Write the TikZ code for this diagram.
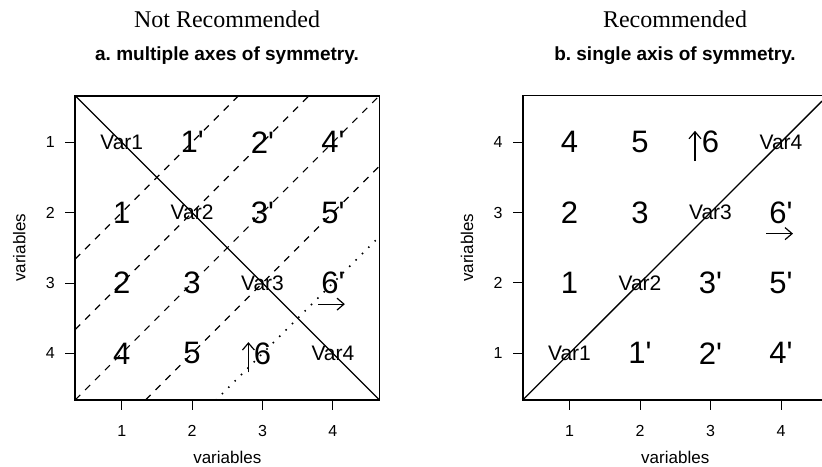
\documentclass[tikz,border=0pt]{standalone}
\usepackage{fontspec}
\setmainfont{Liberation Serif}
\newfontfamily\hv{Liberation Sans}
\usetikzlibrary{arrows.meta}
\frenchspacing
\tikzset{
  frame/.style={line width=1.6pt},
  diag/.style={line width=1.3pt},
  dashln/.style={line width=1.2pt, dash pattern=on 7pt off 7pt},
  dotln/.style={line width=2.2pt, line cap=round, dash pattern=on 0pt off 9pt},
  tickln/.style={line width=0.9pt},
  ticklab/.style={font=\hv\fontsize{16}{16}\selectfont, inner sep=0pt},
  axlab/.style={font=\hv\fontsize{17}{17}\selectfont, inner sep=0pt},
  varlab/.style={font=\hv\fontsize{21}{21}\selectfont, inner sep=0pt},
  numlab/.style={font=\hv\fontsize{31}{31}\selectfont, inner sep=0pt},
  ttl/.style={font=\fontsize{24}{24}\selectfont, inner sep=0pt},
  subttl/.style={font=\hv\bfseries\fontsize{19}{19}\selectfont, inner sep=0pt},
  arr/.style={line width=1.2pt, -{Straight Barb[length=7pt,width=12pt,line width=1.2pt]}}
}
\begin{document}
\begin{tikzpicture}[x=1pt,y=-1pt]
\clip (0,0) rectangle (822,466);
\fill[white] (0,0) rectangle (822,466);
% titles
\node[ttl] (t1) at (227,19) {Not Recommended};
\node[subttl] (s1) at (227,56) {a. multiple axes of symmetry.};
\node[ttl] (t2) at (675,19) {Recommended};
\node[subttl] (s2) at (675,56) {b. single axis of symmetry.};
% ===== left panel =====
\begin{scope}[shift={(51.3pt,-71.8pt)}, x=70.4pt, y=-70.4pt]
  % dashed and dotted anti-diagonals (x+y=c)
  \draw[dashln] (0.34,2.66) -- (2.66,0.34);
  \draw[dashln] (0.34,3.66) -- (3.66,0.34);
  \draw[dashln] (0.34,4.66) -- (4.66,0.34);
  \draw[dashln] (1.34,4.66) -- (4.66,1.34);
  \draw[dotln] (2.34,4.66) -- (4.66,2.34);
  % main diagonal
  \draw[diag] (0.34,0.34) -- (4.66,4.66);
  % frame
  \draw[frame] (0.34,0.34) rectangle (4.66,4.66);
  % ticks
  \foreach \i in {1,2,3,4}{
    \draw[tickln] (\i,4.66) -- ++(0,-10pt);
    \node[ticklab] (lx\i) at ([yshift=-31pt]\i,4.66) {\i};
    \draw[tickln] (0.34,\i) -- ++(-10pt,0);
    \node[ticklab] (ly\i) at ([xshift=-25pt]0.34,\i) {\i};
  }
  \node[axlab] (lxl) at ([yshift=-58pt]2.5,4.66) {variables};
  \node[axlab, rotate=90] (lyl) at ([xshift=-56pt]0.34,2.5) {variables};
  % labels
  \node[varlab] (LV1) at (1,1) {Var1};
  \node[varlab] (LV2) at (2,2) {Var2};
  \node[varlab] (LV3) at (3,3) {Var3};
  \node[varlab] (LV4) at (4,4) {Var4};
  \node[numlab] (La1p) at (2,1) {1'};
  \node[numlab] (La2p) at (3,1) {2'};
  \node[numlab] (La4p) at (4,1) {4'};
  \node[numlab] (La1) at (1,2) {1};
  \node[numlab] (La3p) at (3,2) {3'};
  \node[numlab] (La5p) at (4,2) {5'};
  \node[numlab] (La2) at (1,3) {2};
  \node[numlab] (La3) at (2,3) {3};
  \node[numlab] (La6p) at (4,3) {6'};
  \node[numlab] (La4) at (1,4) {4};
  \node[numlab] (La5) at (2,4) {5};
  \node[numlab] (La6) at (3,4) {6};
  % arrows
  \coordinate (lra) at (3.79,3.3);
  \coordinate (lrb) at (4.17,3.3);
  \draw[arr] (lra) -- (lrb);
  \coordinate (lua) at (2.8,4.27);
  \coordinate (lub) at (2.8,3.84);
  \draw[arr] (lua) -- (lub);
\end{scope}
% ===== right panel =====
\begin{scope}[shift={(499pt,-423.7pt)}, x=70.5pt, y=70.4pt]
  \draw[diag] (0.34,0.34) -- (4.66,4.66);
  \draw[frame] (0.34,0.34) rectangle (4.66,4.66);
  \foreach \i in {1,2,3,4}{
    \draw[tickln] (\i,0.34) -- ++(0,-10pt);
    \node[ticklab] (rx\i) at ([yshift=-31pt]\i,0.34) {\i};
    \draw[tickln] (0.34,\i) -- ++(-10pt,0);
    \node[ticklab] (ry\i) at ([xshift=-25pt]0.34,\i) {\i};
  }
  \node[axlab] (rxl) at ([yshift=-58pt]2.5,0.34) {variables};
  \node[axlab, rotate=90] (ryl) at ([xshift=-56pt]0.34,2.5) {variables};
  \node[varlab] (RV1) at (1,1) {Var1};
  \node[varlab] (RV2) at (2,2) {Var2};
  \node[varlab] (RV3) at (3,3) {Var3};
  \node[varlab] (RV4) at (4,4) {Var4};
  \node[numlab] (Rb1p) at (2,1) {1'};
  \node[numlab] (Rb2p) at (3,1) {2'};
  \node[numlab] (Rb4p) at (4,1) {4'};
  \node[numlab] (Rb1) at (1,2) {1};
  \node[numlab] (Rb3p) at (3,2) {3'};
  \node[numlab] (Rb5p) at (4,2) {5'};
  \node[numlab] (Rb2) at (1,3) {2};
  \node[numlab] (Rb3) at (2,3) {3};
  \node[numlab] (Rb6p) at (4,3) {6'};
  \node[numlab] (Rb4) at (1,4) {4};
  \node[numlab] (Rb5) at (2,4) {5};
  \node[numlab] (Rb6) at (3,4) {6};
  \coordinate (rra) at (3.79,2.7);
  \coordinate (rrb) at (4.17,2.7);
  \draw[arr] (rra) -- (rrb);
  \coordinate (rua) at (2.78,3.73);
  \coordinate (rub) at (2.78,4.16);
  \draw[arr] (rua) -- (rub);
\end{scope}
\end{tikzpicture}
\end{document}
